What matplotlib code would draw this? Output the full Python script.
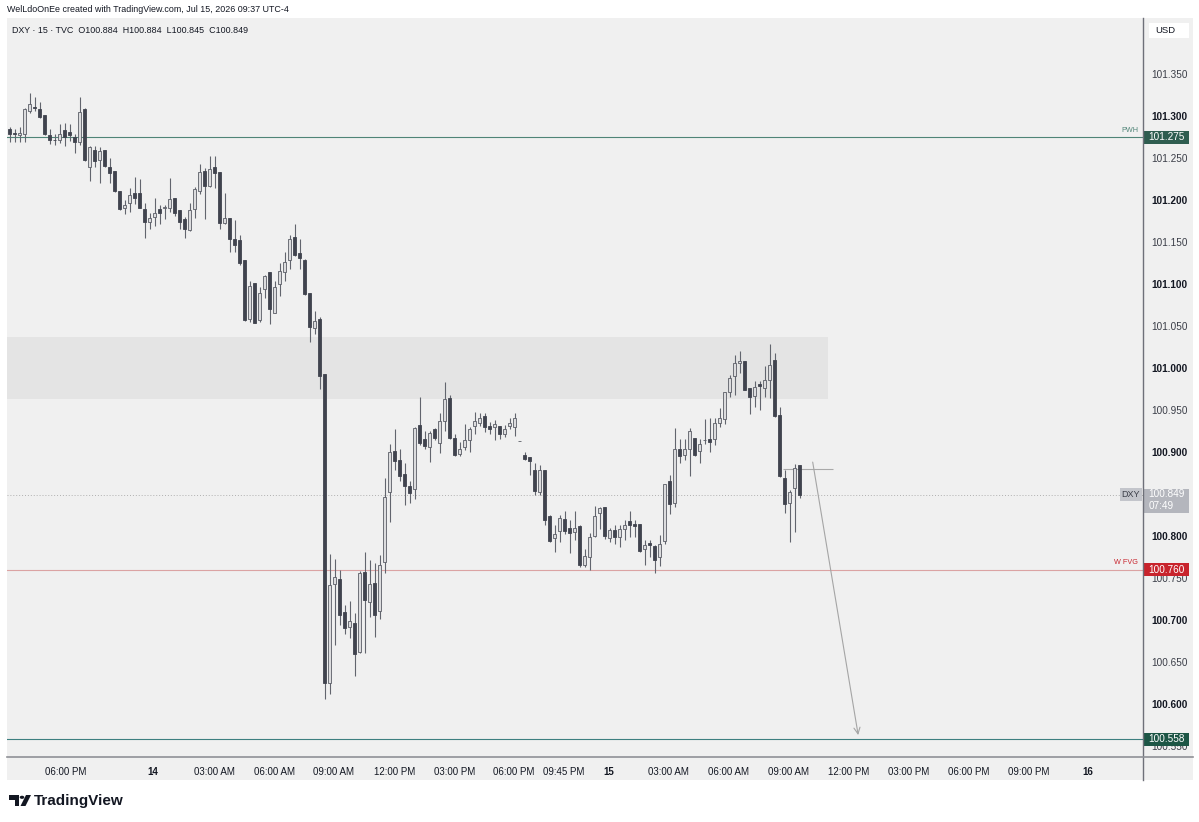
import matplotlib
matplotlib.use("Agg")
import matplotlib.pyplot as plt
from matplotlib.patches import Rectangle, Polygon, Circle
from matplotlib.transforms import blended_transform_factory
import numpy as np

# ---------------- data (15-min DXY candles) ----------------
opens = [101.285, 101.280, 101.278, 101.279, 101.306, 101.311, 101.308, 101.301, 101.277, 101.272,
         101.271, 101.283, 101.281, 101.275, 101.269, 101.308, 101.239, 101.260, 101.248, 101.260,
         101.239, 101.234, 101.211, 101.191, 101.197, 101.208, 101.208, 101.189, 101.174, 101.180,
         101.189, 101.191, 101.190, 101.202, 101.188, 101.177, 101.164, 101.189, 101.211, 101.235,
         101.217, 101.239, 101.233, 101.173, 101.178, 101.154, 101.152, 101.128, 101.058, 101.101,
         101.057, 101.094, 101.114, 101.066, 101.100, 101.114, 101.128, 101.156, 101.137, 101.129,
         101.089, 101.048, 101.058, 100.993, 100.625, 100.743, 100.749, 100.709, 100.692, 100.697,
         100.662, 100.757, 100.721, 100.744, 100.711, 100.769, 100.852, 100.901, 100.891, 100.874,
         100.860, 100.856, 100.932, 100.916, 100.906, 100.927, 100.911, 100.937, 100.964, 100.917,
         100.898, 100.906, 100.914, 100.931, 100.935, 100.943, 100.931, 100.930, 100.931, 100.921,
         100.931, 100.930, 100.913, 100.896, 100.894, 100.879, 100.852, 100.879, 100.824, 100.798,
         100.806, 100.820, 100.810, 100.805, 100.812, 100.766, 100.775, 100.800, 100.827, 100.834,
         100.798, 100.807, 100.799, 100.808, 100.818, 100.814, 100.814, 100.785, 100.792, 100.788,
         100.775, 100.794, 100.865, 100.839, 100.903, 100.897, 100.903, 100.917, 100.901, 100.914,
         100.916, 100.916, 100.934, 100.939, 100.971, 100.991, 101.006, 101.008, 100.976, 100.967,
         100.981, 100.976, 100.986, 101.010, 100.944, 100.869, 100.839, 100.857, 100.884]
highs = [101.287, 101.284, 101.287, 101.309, 101.327, 101.323, 101.317, 101.301, 101.284, 101.279,
         101.291, 101.292, 101.291, 101.279, 101.323, 101.309, 101.264, 101.264, 101.263, 101.260,
         101.250, 101.235, 101.211, 101.200, 101.214, 101.227, 101.225, 101.196, 101.184, 101.203,
         101.194, 101.194, 101.226, 101.202, 101.188, 101.180, 101.196, 101.216, 101.243, 101.238,
         101.252, 101.253, 101.233, 101.208, 101.178, 101.176, 101.158, 101.129, 101.103, 101.101,
         101.097, 101.111, 101.114, 101.103, 101.125, 101.138, 101.158, 101.171, 101.154, 101.130,
         101.089, 101.068, 101.061, 100.993, 100.779, 100.773, 100.760, 100.718, 100.723, 100.708,
         100.758, 100.781, 100.771, 100.768, 100.777, 100.869, 100.910, 100.927, 100.903, 100.887,
         100.865, 100.930, 100.966, 100.925, 100.925, 100.928, 100.946, 100.983, 100.968, 100.922,
         100.912, 100.933, 100.930, 100.948, 100.946, 100.946, 100.936, 100.938, 100.931, 100.932,
         100.941, 100.946, 100.913, 100.900, 100.894, 100.887, 100.885, 100.879, 100.825, 100.813,
         100.825, 100.830, 100.819, 100.830, 100.813, 100.784, 100.803, 100.836, 100.835, 100.834,
         100.810, 100.813, 100.813, 100.819, 100.830, 100.819, 100.814, 100.795, 100.795, 100.789,
         100.801, 100.862, 100.873, 100.928, 100.915, 100.916, 100.928, 100.917, 100.915, 100.939,
         100.940, 100.940, 100.952, 100.972, 100.992, 101.016, 101.020, 101.008, 100.976, 100.984,
         100.984, 101.002, 101.029, 101.018, 100.954, 100.879, 100.855, 100.886, 100.884]
lows = [101.269, 101.269, 101.269, 101.269, 101.304, 101.306, 101.298, 101.277, 101.267, 101.265,
        101.268, 101.264, 101.270, 101.256, 101.265, 101.247, 101.223, 101.239, 101.220, 101.239,
        101.220, 101.210, 101.188, 101.183, 101.186, 101.195, 101.190, 101.155, 101.166, 101.169,
        101.172, 101.177, 101.186, 101.181, 101.165, 101.155, 101.163, 101.179, 101.207, 101.177,
        101.216, 101.214, 101.166, 101.172, 101.138, 101.138, 101.123, 101.056, 101.055, 101.053,
        101.055, 101.083, 101.052, 101.065, 101.086, 101.104, 101.118, 101.133, 101.118, 101.087,
        101.031, 101.040, 100.975, 100.606, 100.612, 100.670, 100.694, 100.683, 100.678, 100.633,
        100.661, 100.661, 100.704, 100.680, 100.701, 100.756, 100.817, 100.878, 100.866, 100.837,
        100.839, 100.844, 100.908, 100.904, 100.888, 100.914, 100.899, 100.925, 100.916, 100.895,
        100.895, 100.902, 100.900, 100.921, 100.931, 100.924, 100.922, 100.914, 100.916, 100.918,
        100.927, 100.919, 100.913, 100.890, 100.873, 100.849, 100.849, 100.813, 100.793, 100.781,
        100.793, 100.802, 100.780, 100.795, 100.763, 100.763, 100.759, 100.799, 100.808, 100.797,
        100.793, 100.791, 100.787, 100.795, 100.799, 100.799, 100.781, 100.766, 100.775, 100.756,
        100.764, 100.791, 100.826, 100.835, 100.887, 100.890, 100.871, 100.895, 100.887, 100.910,
        100.900, 100.908, 100.930, 100.933, 100.966, 100.968, 100.994, 100.974, 100.945, 100.954,
        100.950, 100.966, 100.964, 100.942, 100.870, 100.827, 100.793, 100.805, 100.845]
closes = [101.279, 101.279, 101.280, 101.308, 101.314, 101.309, 101.299, 101.279, 101.271, 101.271,
          101.279, 101.275, 101.277, 101.269, 101.305, 101.248, 101.263, 101.246, 101.258, 101.240,
          101.232, 101.211, 101.189, 101.194, 101.206, 101.203, 101.190, 101.174, 101.179, 101.185,
          101.185, 101.192, 101.201, 101.185, 101.174, 101.165, 101.188, 101.213, 101.233, 101.217,
          101.237, 101.232, 101.173, 101.179, 101.153, 101.146, 101.125, 101.057, 101.098, 101.054,
          101.089, 101.109, 101.070, 101.097, 101.116, 101.126, 101.154, 101.135, 101.131, 101.088,
          101.049, 101.056, 100.991, 100.625, 100.742, 100.751, 100.706, 100.690, 100.699, 100.660,
          100.756, 100.724, 100.743, 100.706, 100.765, 100.846, 100.900, 100.889, 100.872, 100.859,
          100.851, 100.929, 100.911, 100.907, 100.923, 100.917, 100.937, 100.963, 100.917, 100.896,
          100.904, 100.914, 100.927, 100.937, 100.941, 100.930, 100.927, 100.933, 100.922, 100.927,
          100.935, 100.940, 100.913, 100.892, 100.889, 100.853, 100.879, 100.819, 100.794, 100.802,
          100.821, 100.806, 100.803, 100.809, 100.766, 100.776, 100.799, 100.824, 100.833, 100.800,
          100.807, 100.799, 100.808, 100.813, 100.813, 100.812, 100.782, 100.789, 100.789, 100.771,
          100.791, 100.862, 100.838, 100.903, 100.895, 100.904, 100.925, 100.896, 100.910, 100.914,
          100.912, 100.934, 100.941, 100.971, 100.988, 101.006, 101.008, 100.974, 100.966, 100.977,
          100.979, 100.986, 101.004, 100.943, 100.871, 100.838, 100.852, 100.881, 100.849]

price_ticks = [100.55, 100.60, 100.65, 100.70, 100.75, 100.80, 100.90, 100.95,
               101.00, 101.05, 101.10, 101.15, 101.20, 101.25, 101.30, 101.35]
time_labels = ["06:00 PM", "14", "03:00 AM", "06:00 AM", "09:00 AM", "12:00 PM", "03:00 PM",
               "06:00 PM", "09:45 PM", "15", "03:00 AM", "06:00 AM", "09:00 AM", "12:00 PM",
               "03:00 PM", "06:00 PM", "09:00 PM", "16"]
time_label_pos = [11.1, 28.7, 40.9, 52.9, 64.7, 76.9, 88.9, 100.7, 110.7, 119.9, 131.7,
                  143.7, 155.7, 167.7, 179.7, 191.7, 203.7, 215.7]
day_labels = ["14", "15", "16"]

pwh_level = 101.275
wfvg_level = 100.760
target_level = 100.558
last_price = 100.849
zone_top, zone_bottom, zone_end = 101.037, 100.963, 163.6
ray_level, ray_start, ray_end = 100.880, 154.7, 164.7
arrow_from = (160.6, 100.888)
arrow_to = (169.7, 100.563)

# ---------------- styling ----------------
W, H = 1199, 822
PANE = "#f0f0f0"
BEAR = "#40434e"
BULL_FILL = "#dcdcde"
BULL_EDGE = "#5a5d66"
WICK = "#62656e"
TXT = "#131722"
plt.rcParams["font.family"] = ["Liberation Sans", "DejaVu Sans"]

fig = plt.figure(figsize=(W / 100, H / 100), dpi=100, facecolor="white")

def fx(px):
    return px / W

def fy(py):
    return 1 - py / H

# pane background (chart + axes strip)
fig.patches.append(Rectangle((fx(7), fy(780)), fx(1193) - fx(7), fy(18) - fy(780),
                             transform=fig.transFigure, facecolor=PANE, edgecolor="none", zorder=-10))

ax = fig.add_axes([fx(7), fy(757), fx(1143) - fx(7), fy(18) - fy(757)])
ax.set_zorder(1)
ax.set_facecolor(PANE)
ax.set_xlim(-0.54, 226.66)
ax.set_ylim(100.5369, 101.4167)
for s in ax.spines.values():
    s.set_visible(False)

# zone
ax.add_patch(Rectangle((-0.54, zone_bottom), zone_end + 0.54, zone_top - zone_bottom,
                       facecolor="#e4e4e4", edgecolor="none", zorder=1))

# horizontal levels
ax.axhline(pwh_level, color="#4f8477", lw=0.8, zorder=2)
ax.axhline(wfvg_level, color="#dba3a3", lw=0.8, zorder=2)
ax.axhline(target_level, color="#3d7f80", lw=0.8, zorder=2)
ax.axhline(last_price, color="#b0b0b0", lw=0.7, ls=(0, (1, 2)), zorder=2)
ax.hlines(ray_level, ray_start, ray_end, color="#a9a9a9", lw=0.8, zorder=2)

# candles
o = np.array(opens); h = np.array(highs); l = np.array(lows); c = np.array(closes)
x = np.arange(len(o))
bull = c >= o
ax.vlines(x, l, h, color=WICK, lw=0.8, zorder=3)
bottoms = np.minimum(o, c)
heights = np.maximum(np.abs(c - o), 0.0007)
ax.bar(x[bull], heights[bull], bottom=bottoms[bull], width=0.62, color=BULL_FILL,
       edgecolor=BULL_EDGE, linewidth=0.6, zorder=4)
ax.bar(x[~bull], heights[~bull], bottom=bottoms[~bull], width=0.62, color=BEAR,
       edgecolor=BEAR, linewidth=0.6, zorder=4)

# arrow
ax.annotate("", xy=arrow_to, xytext=arrow_from,
            arrowprops=dict(arrowstyle="->,head_length=0.45,head_width=0.22", color="#a5a5a5",
                            lw=0.8, shrinkA=0, shrinkB=0), zorder=3)

# price axis
ax.yaxis.tick_right()
ax.set_yticks(price_ticks)
ax.set_yticklabels([f"{p:.3f}" for p in price_ticks])
ax.tick_params(axis="y", length=0, pad=6, labelsize=7.2, labelcolor=TXT)
for lab, p in zip(ax.get_yticklabels(), price_ticks):
    if abs(round(p * 10) - p * 10) < 1e-6:
        lab.set_fontweight("bold")
    else:
        lab.set_color("#3a3d47")

# time axis
ax.set_xticks(time_label_pos)
ax.set_xticklabels(time_labels)
ax.tick_params(axis="x", length=0, pad=7, labelsize=7, labelcolor=TXT)
for lab in ax.get_xticklabels():
    if lab.get_text() in day_labels:
        lab.set_fontweight("bold")

# separators
fig.add_artist(plt.Line2D([fx(1143), fx(1143)], [fy(18), fy(780)], color="#6e7079", lw=1.0, zorder=5))
fig.add_artist(plt.Line2D([fx(7), fx(1193)], [fy(757), fy(757)], color="#8f9196", lw=1.2, zorder=5))

# price tags
tb = blended_transform_factory(ax.transAxes, ax.transData)
tag_x0 = 1.0007
tag_w = (1188 - 1143) / (1143 - 7)

def tag(level, text, face, tcolor="white", hpx=13):
    hh = hpx / 840
    ax.add_patch(Rectangle((tag_x0, level - hh / 2), tag_w, hh, transform=tb, facecolor=face,
                           edgecolor="none", clip_on=False, zorder=6))
    ax.text(tag_x0 + 0.004, level, text, transform=tb, ha="left", va="center", fontsize=7.2,
            color=tcolor, clip_on=False, zorder=7)

tag(pwh_level, f"{pwh_level:.3f}", "#2f5d50")
tag(wfvg_level, f"{wfvg_level:.3f}", "#c8232c")
tag(target_level, f"{target_level:.3f}", "#1d5646")
# last price tag with countdown
ax.add_patch(Rectangle((tag_x0, last_price - 18 / 840), tag_w, 24 / 840, transform=tb,
                       facecolor="#b4b6bd", edgecolor="none", clip_on=False, zorder=6))
ax.text(tag_x0 + 0.004, last_price + 0.5 / 840, f"{last_price:.3f}", transform=tb, ha="left",
        va="center", fontsize=7.2, color="white", clip_on=False, zorder=7)
ax.text(tag_x0 + 0.004, last_price - 11 / 840, "07:49", transform=tb, ha="left", va="center",
        fontsize=7.2, color="white", clip_on=False, zorder=7)
ax.add_patch(Rectangle((1 - 23 / 1136, last_price - 6.5 / 840), 22 / 1136, 13 / 840, transform=tb,
                       facecolor="#c3c5cb", edgecolor="none", clip_on=False, zorder=6))
ax.text(1 - 12 / 1136, last_price, "DXY", transform=tb, ha="center", va="center", fontsize=6.5,
        color="#3a3d47", zorder=7)

ax.text(1 - 5 / 1136, pwh_level + 7 / 840, "PWH", transform=tb, ha="right", va="center",
        fontsize=5.2, color="#4f8477", zorder=7)
ax.text(1 - 5 / 1136, wfvg_level + 7 / 840, "W FVG", transform=tb, ha="right", va="center",
        fontsize=5.2, color="#c8232c", zorder=7)

# USD box
fig.patches.append(Rectangle((fx(1149), fy(38)), fx(1189) - fx(1149), fy(23) - fy(38),
                             transform=fig.transFigure, facecolor="white", edgecolor="none", zorder=1))
fig.text(fx(1155), fy(30.5), "USD", fontsize=6.8, color=TXT, va="center", ha="left")

# header texts
fig.text(fx(7), fy(9.5), "WelLdoOnEe created with TradingView.com, Jul 15, 2026 09:37 UTC-4",
         fontsize=6.4, color=TXT, va="center", ha="left")
fig.text(fx(12), fy(30.5), "DXY · 15 · TVC  O100.884  H100.884  L100.845  C100.849",
         fontsize=6.4, color=TXT, va="center", ha="left", zorder=5)

# TradingView logo
fig.patches.append(Polygon([(fx(9), fy(795)), (fx(19), fy(795)), (fx(19), fy(806)), (fx(14.5), fy(806)),
                            (fx(14.5), fy(799.5)), (fx(9), fy(799.5))], closed=True,
                           transform=fig.transFigure, facecolor=TXT, edgecolor="none"))
fig.patches.append(Circle((fx(22), fy(797.3)), 2.3 / W, transform=fig.transFigure,
                          facecolor=TXT, edgecolor="none"))
fig.patches.append(Polygon([(fx(26), fy(795)), (fx(31), fy(795)), (fx(25.5), fy(806)), (fx(20.5), fy(806))],
                           closed=True, transform=fig.transFigure, facecolor=TXT, edgecolor="none"))
fig.text(fx(34), fy(800.5), "TradingView", fontsize=11, fontweight="bold", color=TXT,
         va="center", ha="left")

fig.savefig("out.png", dpi=100, facecolor="white")
